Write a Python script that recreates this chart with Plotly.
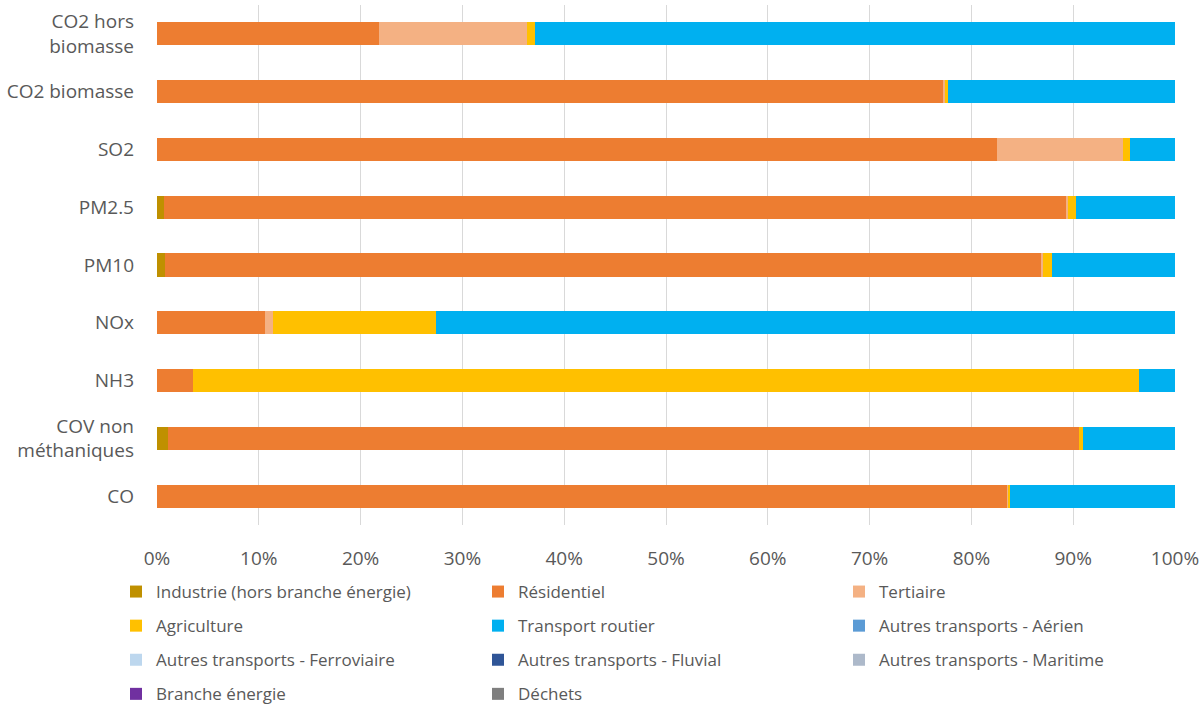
import plotly.graph_objects as go

# Pollutants, bottom to top
polluants = ["CO", "COV non<br>méthaniques", "NH3", "NOx", "PM10", "PM2.5",
             "SO2", "CO2 biomasse", "CO2 hors<br>biomasse"]

# Share of emissions by sector (%), same order as polluants
industrie = [0.0, 1.1, 0.0, 0.0, 0.8, 0.7, 0.0, 0.0, 0.0]
residentiel = [83.5, 89.5, 3.5, 10.6, 86.0, 88.6, 82.5, 77.25, 21.8]
tertiaire = [0.1, 0.0, 0.0, 0.8, 0.2, 0.2, 12.4, 0.15, 14.5]
agriculture = [0.2, 0.4, 93.0, 16.0, 0.9, 0.8, 0.7, 0.3, 0.8]
transport_routier = [16.2, 9.0, 3.5, 72.6, 12.1, 9.7, 4.4, 22.3, 62.9]
aerien = [0.0] * 9
ferroviaire = [0.0] * 9
fluvial = [0.0] * 9
maritime = [0.0] * 9
branche_energie = [0.0] * 9
dechets = [0.0] * 9

secteurs = [
    ("Industrie (hors branche énergie)", industrie, "#BF9000", "legend"),
    ("Résidentiel", residentiel, "#ED7D31", "legend2"),
    ("Tertiaire", tertiaire, "#F4B183", "legend3"),
    ("Agriculture", agriculture, "#FFC000", "legend"),
    ("Transport routier", transport_routier, "#00B0F0", "legend2"),
    ("Autres transports - Aérien", aerien, "#5B9BD5", "legend3"),
    ("Autres transports - Ferroviaire", ferroviaire, "#BDD7EE", "legend"),
    ("Autres transports - Fluvial", fluvial, "#2F5597", "legend2"),
    ("Autres transports - Maritime", maritime, "#ADB9CA", "legend3"),
    ("Branche énergie", branche_energie, "#7030A0", "legend"),
    ("Déchets", dechets, "#7F7F7F", "legend2"),
]

FONT = "Open Sans, Noto Sans, sans-serif"
TXT = "#595959"

fig = go.Figure()
for i, (nom, vals, couleur, leg) in enumerate(secteurs):
    fig.add_trace(go.Bar(
        y=polluants, x=vals, name=nom, orientation="h",
        marker=dict(color=couleur, line=dict(width=0)),
        legend=leg, legendgroup=f"g{i}",
    ))

leg_common = dict(
    orientation="v", xref="container", yref="container",
    xanchor="left", yanchor="top", y=1 - 574 / 708, tracegroupgap=9,
    font=dict(family=FONT, size=17, color=TXT),
    bgcolor="rgba(0,0,0,0)", itemwidth=30,
)

fig.update_layout(
    barmode="stack",
    bargap=0.6,
    width=1200, height=708,
    margin=dict(l=157, r=25, t=5, b=183, autoexpand=False),
    plot_bgcolor="white", paper_bgcolor="white",
    font=dict(family=FONT, size=19, color=TXT),
    xaxis=dict(
        range=[0, 100], tickvals=list(range(0, 101, 10)),
        ticktext=[f"{v}%" for v in range(0, 101, 10)],
        showgrid=True, gridcolor="#D9D9D9", gridwidth=1,
        zeroline=False, showline=False, ticks="", ticklabelstandoff=20,
        tickfont=dict(size=19, color=TXT), automargin=False,
    ),
    yaxis=dict(
        showgrid=False, zeroline=False, showline=False, ticks="",
        ticklabelstandoff=22, tickfont=dict(size=19, color=TXT),
        automargin=False,
    ),
    legend=dict(leg_common, x=116 / 1200),
    legend2=dict(leg_common, x=478 / 1200),
    legend3=dict(leg_common, x=839 / 1200),
)

fig.write_html("out.html")
